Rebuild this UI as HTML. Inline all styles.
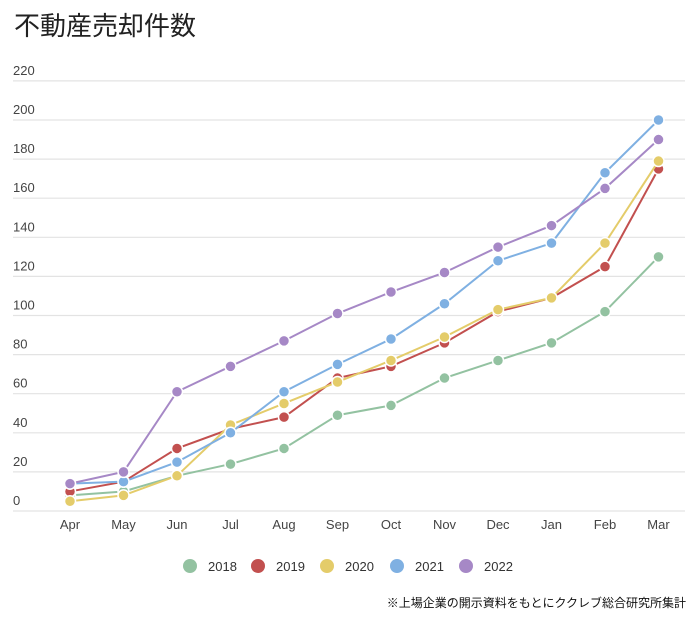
<!DOCTYPE html>
<html><head><meta charset="utf-8"><style>
body{margin:0;background:#fff;width:700px;height:619px;overflow:hidden;font-family:"Liberation Sans","Noto Sans CJK JP",sans-serif;}
</style></head><body>
<svg id="chart" width="700" height="619" xmlns="http://www.w3.org/2000/svg">
<text x="14" y="35" font-size="26" fill="#222" font-family="Liberation Sans, Noto Sans CJK JP, sans-serif">不動産売却件数</text>
<g id="grid"></g><g id="series"></g><g id="legend"></g>
<text x="686" y="607" text-anchor="end" font-size="12" fill="#111" font-family="Liberation Sans, Noto Sans CJK JP, sans-serif">※上場企業の開示資料をもとにククレブ総合研究所集計</text>
</svg>
<script>
const categories=["Apr","May","Jun","Jul","Aug","Sep","Oct","Nov","Dec","Jan","Feb","Mar"];
const yTicks=[0,20,40,60,80,100,120,140,160,180,200,220];
const seriesNames=["2018","2019","2020","2021","2022"];
const s2018=[8,10,18,24,32,49,54,68,77,86,102,130];
const s2019=[10,15,32,42,48,68,74,86,102,109,125,175];
const s2020=[5,8,18,44,55,66,77,89,103,109,137,179];
const s2021=[14,15,25,40,61,75,88,106,128,137,173,200];
const s2022=[14,20,61,74,87,101,112,122,135,146,165,190];
const colors=["#93c2a1","#c2504f","#e4cc6a","#7fb0e2","#a688c6"];
const NS="http://www.w3.org/2000/svg";
const X=i=>70+i*53.5;
const Y=v=>511-v*1.955;
function mk(tag,attrs,parent){const e=document.createElementNS(NS,tag);for(const k in attrs)e.setAttribute(k,attrs[k]);parent.appendChild(e);return e;}
const grid=document.getElementById('grid');
yTicks.forEach(t=>{
  const l=mk('line',{x1:13,x2:685,y1:Y(t),y2:Y(t),stroke:'#e3e3e3','stroke-width':1.2},grid);
  
  
  const tx=mk('text',{x:13,y:Y(t)-6,'font-size':13,fill:'#444'},grid);
  tx.textContent=t;
  
  
});
categories.forEach((c,i)=>{
  const tx=mk('text',{x:X(i),y:529,'font-size':13,fill:'#444','text-anchor':'middle'},grid);
  tx.textContent=c;
  
  
});
const all=[s2018,s2019,s2020,s2021,s2022];
const sg=document.getElementById('series');
all.forEach((d,si)=>{
  const g=mk('g',{},sg);
  
  
  const p=mk('polyline',{points:d.map((v,i)=>X(i)+','+Y(v)).join(' '),fill:'none',stroke:colors[si],'stroke-width':2},g);
  
  
  d.forEach((v,i)=>{
    const c=mk('circle',{cx:X(i),cy:Y(v),r:5.5,fill:colors[si],stroke:'#fff','stroke-width':1.5},g);
    
    
  });
});
const lg=document.getElementById('legend');
const lx=[190,258,327,397,466];
seriesNames.forEach((n,i)=>{
  const c=mk('circle',{cx:lx[i],cy:566,r:7,fill:colors[i]},lg);
  
  
  const t=mk('text',{x:lx[i]+18,y:571,'font-size':13,fill:'#333'},lg);
  t.textContent=n;
  
  
});
</script>
</body></html>
